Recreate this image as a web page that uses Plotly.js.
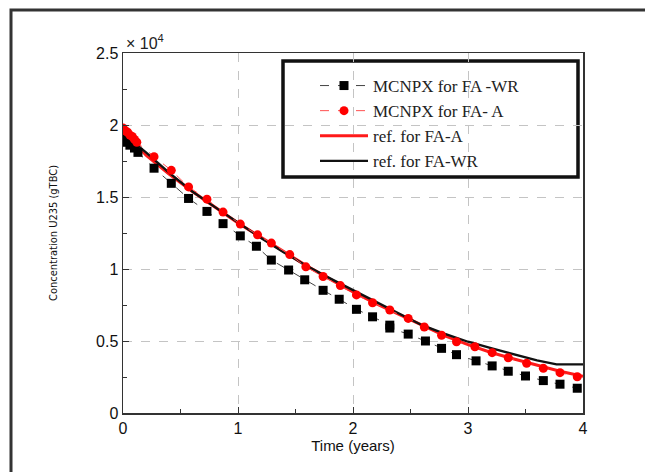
<!DOCTYPE html>
<html>
<head>
<meta charset="utf-8">
<script src="https://cdn.plot.ly/plotly-3.0.1.min.js"></script>
<style>html,body{margin:0;padding:0;background:#fff;}#chart{width:645px;height:472px;}</style>
</head>
<body>
<div id="chart"></div>
<script>
// Time (years) and U235 concentration (x 10^4 g/TBC)
const wrMcTime = [0.00,0.03,0.06,0.10,0.13,0.27,0.42,0.57,0.73,0.87,1.02,1.16,1.29,1.44,1.58,1.74,1.88,2.03,2.17,2.32,2.32,2.48,2.63,2.77,2.90,3.07,3.21,3.35,3.50,3.655,3.80,3.95];
const wrMcConc = [1.90,1.88,1.86,1.84,1.81,1.70,1.595,1.49,1.40,1.315,1.23,1.158,1.062,0.993,0.925,0.852,0.79,0.72,0.668,0.61,0.59,0.548,0.50,0.449,0.405,0.362,0.327,0.29,0.257,0.225,0.20,0.172];

const aMcTime = [0.00,0.02,0.04,0.06,0.08,0.10,0.12,0.27,0.42,0.57,0.73,0.87,1.02,1.17,1.29,1.45,1.59,1.74,1.89,2.03,2.17,2.32,2.48,2.62,2.77,2.90,3.06,3.21,3.35,3.51,3.655,3.80,3.95];
const aMcConc = [1.98,1.96,1.95,1.93,1.92,1.90,1.88,1.78,1.685,1.57,1.485,1.395,1.312,1.237,1.18,1.10,1.015,0.948,0.885,0.82,0.766,0.715,0.657,0.597,0.54,0.495,0.46,0.419,0.384,0.345,0.31,0.28,0.252];

const aRefTime = [0,0.1,0.2,0.4,0.6,0.8,1.0,1.2,1.4,1.6,1.8,2.0,2.2,2.4,2.6,2.8,3.0,3.2,3.4,3.6,3.8,4.0];
const aRefConc = [1.98,1.88,1.79,1.66,1.54,1.43,1.32,1.22,1.12,1.02,0.93,0.84,0.76,0.685,0.605,0.535,0.475,0.42,0.375,0.33,0.29,0.255];

const wrRefTime = [0,0.2,0.4,0.6,0.8,1.0,1.2,1.4,1.6,1.8,2.0,2.2,2.4,2.6,2.8,3.0,3.2,3.4,3.6,3.77,4.0];
const wrRefConc = [1.94,1.81,1.67,1.54,1.43,1.32,1.215,1.115,1.02,0.935,0.855,0.775,0.69,0.61,0.55,0.495,0.45,0.405,0.365,0.338,0.338];

const xTicks = [0,1,2,3,4];
const yTicks = [0,0.5,1,1.5,2,2.5];
const yTickText = ['0','0.5','1','1.5','2','2.5'];

const names = ['MCNPX for FA -WR','MCNPX for FA- A','ref. for FA-A','ref. for FA-WR'];

const traces = [
  {x: aRefTime, y: aRefConc, name: names[2], mode: 'lines', legendrank: 3,
   line: {color: '#ff1a1a', width: 3}},
  {x: wrRefTime, y: wrRefConc, name: names[3], mode: 'lines', legendrank: 4,
   line: {color: '#111', width: 2.3}},
  {x: wrMcTime, y: wrMcConc, name: names[0], mode: 'lines+markers', legendrank: 1,
   line: {color: '#444', width: 1, dash: 'dash'},
   marker: {symbol: 'square', size: 9, color: '#000'}},
  {x: aMcTime, y: aMcConc, name: names[1], mode: 'lines+markers', legendrank: 2,
   line: {color: '#ff5050', width: 1, dash: 'dash'},
   marker: {symbol: 'circle', size: 9, color: '#ff0000'}}
];

const P = (px) => (px - 123) / 460;
const Q = (py) => (413 - py) / 360;

const layout = {
  width: 645, height: 472,
  margin: {l: 123, r: 62, t: 53, b: 59},
  paper_bgcolor: '#fff', plot_bgcolor: '#fff',
  font: {family: 'Liberation Sans, Arial, sans-serif', color: '#111'},
  showlegend: true,
  legend: {x: P(315), y: Q(68), xanchor: 'left', yanchor: 'top',
    bgcolor: 'rgba(0,0,0,0)', borderwidth: 0, itemwidth: 48,
    font: {family: 'Liberation Serif, Times New Roman, serif', size: 17, color: '#222'},
    tracegroupgap: 0},
  xaxis: {range: [0, 4], tickvals: xTicks, ticks: 'inside', ticklen: 6, tickcolor: '#333',
    showline: true, linecolor: '#333', linewidth: 1.5, mirror: true,
    showgrid: true, gridcolor: '#c4c4c4', griddash: 'dash', gridwidth: 1, zeroline: false,
    minor: {dtick: 0.5, ticks: 'inside', ticklen: 4, tickcolor: '#333', showgrid: false},
    tickfont: {size: 16, color: '#111'},
    title: {text: 'Time (years)', font: {size: 15, color: '#111'}, standoff: 5}},
  yaxis: {range: [0, 2.5], tickvals: yTicks, ticktext: yTickText, ticks: 'inside', ticklen: 6, tickcolor: '#333',
    showline: true, linecolor: '#333', linewidth: 1.5, mirror: true,
    showgrid: true, gridcolor: '#c4c4c4', griddash: 'dash', gridwidth: 1, zeroline: false,
    minor: {dtick: 0.25, ticks: 'inside', ticklen: 4, tickcolor: '#333', showgrid: false},
    tickfont: {size: 16, color: '#111'},
    title: {text: 'Concentration U235 (gTBC)', font: {family: 'DejaVu Sans Condensed, Liberation Sans Narrow, sans-serif', size: 11, color: '#111'}, standoff: 36}},
  shapes: [
    {type: 'rect', xref: 'paper', yref: 'paper', x0: P(11), x1: P(720), y0: Q(520), y1: Q(10),
     line: {color: '#333', width: 3}, fillcolor: 'rgba(0,0,0,0)', layer: 'below'},
    {type: 'rect', xref: 'paper', yref: 'paper', x0: P(283), x1: P(578), y0: Q(177), y1: Q(61),
     line: {color: '#111', width: 3.5}, fillcolor: '#fff', layer: 'between'}
  ],
  annotations: [
    {xref: 'paper', yref: 'paper', x: P(124), y: Q(42), xanchor: 'left', yanchor: 'middle', showarrow: false,
     text: '× 10<sup>4</sup>', font: {size: 16, color: '#222'}}
  ]
};

Plotly.newPlot('chart', traces, layout, {displayModeBar: false, staticPlot: true});
</script>
</body>
</html>
